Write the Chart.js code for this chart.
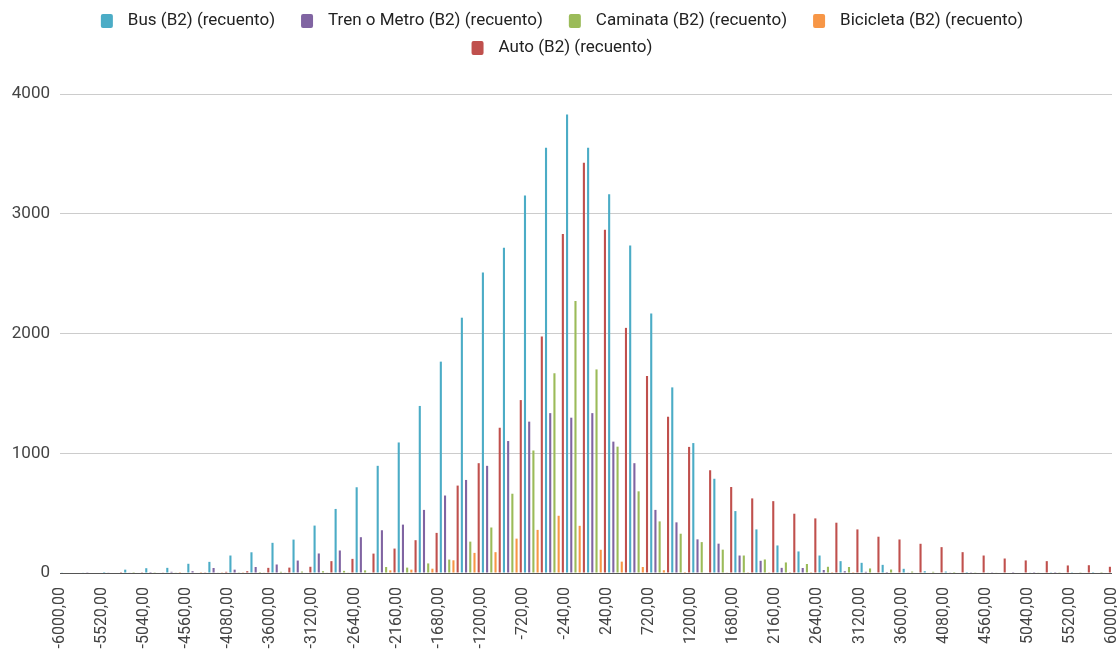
<!DOCTYPE html>
<html lang="es">
<head>
<meta charset="utf-8">
<title>Recuento por medio de transporte (B2)</title>
<script src="https://cdn.jsdelivr.net/npm/chart.js@4.4.1/dist/chart.umd.min.js"></script>
<style>
  html, body { margin: 0; padding: 0; background: #ffffff; }
  #wrap { width: 1117px; height: 650px; }
  canvas { display: block; }
</style>
</head>
<body>
<div id="wrap"><canvas id="chart" width="1117" height="650"></canvas></div>
<script>
// Histogram bins (lower edge of each 240-wide bin)
const binWidth = 240;
const binStarts = [
  -6000, -5760, -5520, -5280, -5040, -4800, -4560, -4320, -4080, -3840,
  -3600, -3360, -3120, -2880, -2640, -2400, -2160, -1920, -1680, -1440,
  -1200, -960, -720, -480, -240, 0, 240, 480, 720, 960,
  1200, 1440, 1680, 1920, 2160, 2400, 2640, 2880, 3120, 3360,
  3600, 3840, 4080, 4320, 4560, 4800, 5040, 5280, 5520, 5760
];

// Axis tick values
const xTickValues = [
  -6000, -5520, -5040, -4560, -4080, -3600, -3120, -2640, -2160, -1680, -1200, -720, -240,
  240, 720, 1200, 1680, 2160, 2640, 3120, 3600, 4080, 4560, 5040, 5520, 6000
];
const yTickValues = [0, 1000, 2000, 3000, 4000];

// Series names
const seriesNames = [
  'Bus (B2) (recuento)',
  'Tren o Metro (B2) (recuento)',
  'Caminata (B2) (recuento)',
  'Bicicleta (B2) (recuento)',
  'Auto (B2) (recuento)'
];

// Counts per bin for each series
const busCounts = [
  3, 5, 8, 28, 40, 43, 77, 93, 146, 173,
  252, 279, 396, 535, 716, 895, 1090, 1395, 1765, 2132,
  2510, 2716, 3153, 3552, 3828, 3552, 3162, 2735, 2167, 1550,
  1085, 787, 517, 364, 230, 180, 146, 99, 85, 68,
  35, 15, 12, 8, 5, 4, 3, 2, 2, 1
];
const trenCounts = [
  0, 2, 3, 5, 8, 10, 15, 42, 28, 50,
  71, 104, 163, 188, 299, 357, 404, 527, 647, 777,
  895, 1102, 1264, 1335, 1297, 1335, 1097, 917, 527, 423,
  281, 245, 146, 102, 43, 42, 25, 15, 10, 8,
  5, 4, 3, 2, 2, 1, 1, 1, 0, 0
];
const caminataCounts = [
  0, 0, 0, 1, 2, 3, 4, 5, 6, 8,
  10, 12, 15, 18, 22, 50, 45, 80, 112, 262,
  380, 662, 1023, 1668, 2272, 1700, 1055, 682, 431, 328,
  258, 195, 146, 113, 88, 75, 52, 50, 38, 29,
  12, 10, 8, 6, 5, 4, 3, 2, 2, 1
];
const bicicletaCounts = [
  0, 0, 0, 0, 0, 1, 1, 2, 2, 3,
  3, 4, 5, 5, 5, 22, 28, 36, 106, 168,
  174, 287, 360, 478, 394, 194, 95, 50, 23, 8,
  4, 3, 2, 2, 1, 1, 1, 1, 0, 0,
  0, 0, 0, 0, 0, 0, 0, 0, 0, 0
];
const autoCounts = [
  0, 0, 1, 2, 3, 4, 6, 10, 15, 43,
  45, 52, 99, 118, 162, 204, 274, 335, 730, 917,
  1213, 1444, 1975, 2830, 3425, 2866, 2047, 1645, 1305, 1053,
  858, 718, 623, 600, 495, 456, 420, 364, 303, 280,
  244, 216, 174, 146, 121, 105, 99, 63, 65, 52
];

const seriesCounts = [busCounts, trenCounts, caminataCounts, bicicletaCounts, autoCounts];
const seriesColors = ['#4bacc6', '#8064a2', '#9bbb59', '#f79646', '#c0504d'];

// Centered, wrapping legend drawn above the plot
const legendRows = {
  id: 'legendRows',
  afterDraw(chart, args, opts) {
    const ctx = chart.ctx;
    ctx.save();
    ctx.font = opts.fontSize + 'px ' + opts.fontFamily;
    ctx.textBaseline = 'middle';
    ctx.textAlign = 'left';
    const items = chart.data.datasets.map(ds => ({
      text: ds.label,
      color: ds.backgroundColor,
      w: opts.boxWidth + opts.boxGap + ctx.measureText(ds.label).width
    }));
    const rows = [[]];
    let rowW = 0;
    items.forEach(it => {
      const row = rows[rows.length - 1];
      const add = (row.length ? opts.itemGap : 0) + it.w;
      if (row.length && rowW + add > opts.maxRowWidth) {
        rows.push([it]);
        rowW = it.w;
      } else {
        row.push(it);
        rowW += add;
      }
    });
    rows.forEach((row, r) => {
      const total = row.reduce((s, it) => s + it.w, 0) + opts.itemGap * (row.length - 1);
      let x = opts.centerX - total / 2;
      const y = opts.firstRowY + r * opts.rowHeight;
      row.forEach(it => {
        ctx.fillStyle = it.color;
        ctx.beginPath();
        if (ctx.roundRect) {
          ctx.roundRect(x, y - opts.boxHeight / 2, opts.boxWidth, opts.boxHeight, 2);
        } else {
          ctx.rect(x, y - opts.boxHeight / 2, opts.boxWidth, opts.boxHeight);
        }
        ctx.fill();
        ctx.fillStyle = opts.color;
        ctx.fillText(it.text, x + opts.boxWidth + opts.boxGap, y);
        x += it.w + opts.itemGap;
      });
    });
    ctx.restore();
  }
};

const formatBin = v => v.toFixed(2).replace('.', ',');

Chart.defaults.font.family = 'Roboto, "Noto Sans", sans-serif';

new Chart(document.getElementById('chart'), {
  type: 'bar',
  data: {
    datasets: seriesNames.map((name, i) => ({
      label: name,
      data: seriesCounts[i].map((v, k) => ({ x: binStarts[k] + binWidth / 2, y: v })),
      backgroundColor: seriesColors[i],
      borderWidth: 0,
      categoryPercentage: 1,
      barPercentage: 0.5
    }))
  },
  options: {
    responsive: false,
    animation: false,
    devicePixelRatio: 1,
    layout: { padding: { top: 94, right: 5, bottom: 0, left: 0 } },
    plugins: {
      legend: { display: false },
      tooltip: { enabled: false },
      legendRows: {
        fontSize: 17,
        fontFamily: 'Roboto, "Noto Sans", sans-serif',
        color: '#222222',
        boxWidth: 12,
        boxHeight: 14,
        boxGap: 15,
        itemGap: 26,
        maxRowWidth: 1000,
        centerX: 562,
        firstRowY: 21,
        rowHeight: 27
      }
    },
    scales: {
      x: {
        type: 'linear',
        min: -6000,
        max: 6000,
        offset: false,
        grid: { display: false, offset: false },
        border: { display: false },
        afterBuildTicks: s => { s.ticks = xTickValues.map(v => ({ value: v })); },
        ticks: {
          autoSkip: false,
          minRotation: 90,
          maxRotation: 90,
          padding: 6,
          color: '#444444',
          font: { size: 16 },
          callback: v => formatBin(v)
        },
        afterFit: s => { s.height = 77; s.paddingLeft = 0; s.paddingRight = 0; }
      },
      y: {
        min: 0,
        max: 4000,
        afterBuildTicks: s => { s.ticks = yTickValues.map(v => ({ value: v })); },
        grid: {
          drawTicks: false,
          color: c => (c.tick && c.tick.value === 0 ? '#555555' : '#cccccc')
        },
        border: { display: false },
        ticks: {
          padding: 10,
          color: '#444444',
          font: { size: 17 },
          callback: v => String(v)
        },
        afterFit: s => { s.width = 60; }
      }
    }
  },
  plugins: [legendRows]
});
</script>
</body>
</html>
